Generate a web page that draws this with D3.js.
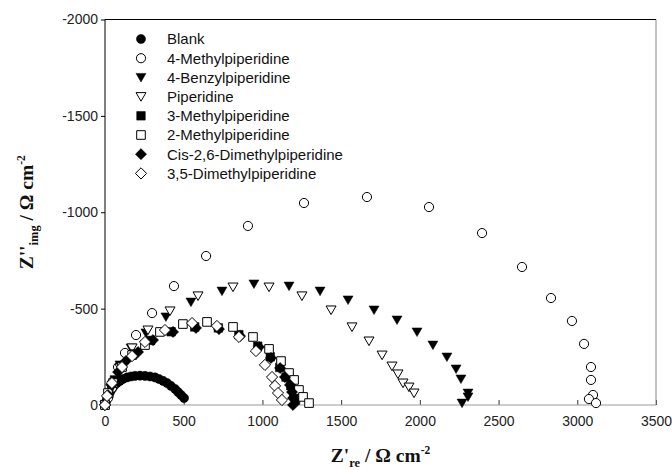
<!DOCTYPE html>
<html>
<head>
<meta charset="utf-8">
<script src="https://cdn.jsdelivr.net/npm/d3@7"></script>
<style>
  body { margin: 0; background: #fff; }
  svg { display: block; }
  .tick text { font-family: "Liberation Sans", Arial, sans-serif; font-size: 14px; fill: #222; }
  .title { font-family: "Liberation Serif", "Times New Roman", serif; font-weight: bold; font-size: 19.5px; fill: #111; }
  .legend text { font-family: "Liberation Sans", Arial, sans-serif; font-size: 15px; fill: #111; }
</style>
</head>
<body>
<svg id="chart"></svg>
<script>
// Nyquist data, [Z're, Z''img] in Ohm cm^-2 (Z''img negative)
const blank = [[0,0],[6,-16],[13,-31],[19,-47],[32,-67],[44,-83],[57,-99],[76,-114],[95,-125],[114,-135],
  [140,-143],[165,-148],[191,-151],[222,-152],[254,-151],[286,-148],[318,-143],[343,-135],[369,-125],
  [394,-114],[419,-99],[445,-83],[464,-67],[483,-52],[502,-36]];
const methyl4 = [[0,0],[19,-36],[44,-88],[83,-197],[127,-270],[197,-363],[299,-477],[438,-617],[642,-773],
  [908,-929],[1264,-1048],[1664,-1079],[2058,-1027],[2395,-892],[2649,-716],[2833,-555],[2966,-436],
  [3043,-317],[3087,-197],[3087,-130],[3100,-52],[3074,-31],[3119,-10]];
const benzyl4 = [[0,0],[44,-104],[95,-208],[165,-296],[260,-374],[387,-457],[546,-534],[743,-591],[946,-628],
  [1169,-617],[1366,-591],[1544,-545],[1709,-493],[1855,-441],[1982,-379],[2083,-311],[2172,-249],
  [2230,-187],[2261,-135],[2306,-62],[2306,-42],[2268,-10]];
const piperidine = [[0,0],[38,-88],[95,-192],[172,-296],[273,-389],[413,-488],[591,-566],[813,-612],[1042,-612],
  [1251,-566],[1436,-493],[1569,-405],[1677,-332],[1760,-259],[1823,-202],[1861,-161],[1893,-114],
  [1931,-93],[1963,-62]];
const methyl3 = [[0,0],[25,-60],[60,-130],[110,-200],[180,-265],[290,-335],[420,-380],[570,-405],[720,-400],
  [850,-365],[970,-305],[1050,-250],[1110,-195],[1150,-145],[1180,-100],[1200,-60],[1210,-25]];
const methyl2 = [[0,0],[19,-62],[51,-114],[108,-197],[172,-259],[254,-311],[349,-379],[495,-420],[648,-431],
  [813,-405],[940,-353],[1042,-291],[1118,-228],[1169,-166],[1201,-130],[1232,-78],[1258,-42],[1296,-10]];
const cisDimethyl = [[0,0],[19,-52],[44,-104],[83,-171],[133,-228],[210,-275],[305,-337],[432,-379],[578,-400],
  [724,-394],[858,-358],[978,-301],[1054,-244],[1112,-192],[1143,-145],[1175,-104],[1188,-67],[1194,-36],[1194,0]];
const dimethyl35 = [[0,0],[13,-47],[44,-114],[108,-197],[172,-254],[254,-327],[381,-389],[553,-425],[711,-410],
  [851,-353],[959,-280],[1016,-208],[1061,-145],[1080,-99],[1099,-62],[1124,-26]];

const seriesNames = ["Blank", "4-Methylpiperidine", "4-Benzylpiperidine", "Piperidine",
  "3-Methylpiperidine", "2-Methylpiperidine", "Cis-2,6-Dimethylpiperidine", "3,5-Dimethylpiperidine"];
const seriesData = [blank, methyl4, benzyl4, piperidine, methyl3, methyl2, cisDimethyl, dimethyl35];
const xTicks = [0, 500, 1000, 1500, 2000, 2500, 3000, 3500];
const yTicks = [0, -500, -1000, -1500, -2000];

// marker shape + fill per series
const markers = [
  { shape: "circle", filled: true },
  { shape: "circle", filled: false },
  { shape: "triangle", filled: true },
  { shape: "triangle", filled: false },
  { shape: "square", filled: true },
  { shape: "square", filled: false },
  { shape: "diamond", filled: true },
  { shape: "diamond", filled: false }
];

const W = 672, H = 470;
const plot = { left: 105, right: 656, top: 19.5, bottom: 405 };

const svg = d3.select("#chart").attr("width", W).attr("height", H);

const x = d3.scaleLinear().domain([0, 3500]).range([plot.left, plot.right]);
const y = d3.scaleLinear().domain([0, -2000]).range([plot.bottom, plot.top]);

function markerPath(shape) {
  if (shape === "circle") return d3.symbol(d3.symbolCircle, 66)();
  if (shape === "square") return "M-4.3,-4.3H4.3V4.3H-4.3Z";
  if (shape === "diamond") return "M0,-5.6L5.6,0L0,5.6L-5.6,0Z";
  return "M-5,-4L5,-4L0,4.6Z"; // downward triangle
}

// axes
const xAxis = d3.axisBottom(x).tickValues(xTicks).tickSize(-5).tickPadding(11).tickFormat(d => String(d));
svg.append("g")
  .attr("transform", `translate(0,${plot.bottom})`)
  .call(xAxis)
  .call(g => g.select(".domain").remove())
  .call(g => g.selectAll(".tick line").attr("stroke", "#333"));

const yAxis = d3.axisLeft(y).tickValues(yTicks).tickSize(4).tickPadding(3).tickFormat(d => String(d));
svg.append("g")
  .attr("transform", `translate(${plot.left},0)`)
  .call(yAxis)
  .call(g => g.select(".domain").remove())
  .call(g => g.selectAll(".tick line").attr("stroke", "#000"));

// frame
svg.append("line").attr("x1", plot.left).attr("x2", plot.right).attr("y1", plot.bottom).attr("y2", plot.bottom)
  .attr("stroke", "#999").attr("stroke-width", 1.2);
svg.append("line").attr("x1", plot.right).attr("x2", plot.right).attr("y1", plot.top).attr("y2", plot.bottom)
  .attr("stroke", "#888").attr("stroke-width", 1);
svg.append("line").attr("x1", plot.left).attr("x2", plot.right).attr("y1", plot.top).attr("y2", plot.top)
  .attr("stroke", "#000").attr("stroke-width", 1);
svg.append("line").attr("x1", plot.left).attr("x2", plot.left).attr("y1", plot.top).attr("y2", plot.bottom)
  .attr("stroke", "#000").attr("stroke-width", 1);

// points
seriesData.forEach((data, i) => {
  const m = markers[i];
  svg.append("g")
    .selectAll("path")
    .data(data)
    .join("path")
    .attr("d", markerPath(m.shape))
    .attr("transform", d => `translate(${x(d[0])},${y(d[1])})`)
    .attr("fill", m.filled ? "#000" : "#fff")
    .attr("stroke", "#000")
    .attr("stroke-width", m.filled ? 0.5 : 1);
});

// legend
const legend = svg.append("g").attr("class", "legend");
seriesNames.forEach((name, i) => {
  const m = markers[i];
  const ly = 39 + i * 19.2;
  legend.append("path")
    .attr("d", markerPath(m.shape))
    .attr("transform", `translate(141,${ly})`)
    .attr("fill", m.filled ? "#000" : "#fff")
    .attr("stroke", "#000")
    .attr("stroke-width", m.filled ? 0.5 : 1);
  legend.append("text")
    .attr("x", 167)
    .attr("y", ly)
    .attr("dy", "0.36em")
    .text(name);
});

// axis titles
const xt = svg.append("text").attr("class", "title")
  .attr("x", (plot.left + plot.right) / 2).attr("y", 462).attr("text-anchor", "middle");
xt.append("tspan").text("Z'");
xt.append("tspan").attr("font-size", "12.5px").attr("dy", 5).text("re");
xt.append("tspan").attr("dy", -5).text(" / Ω cm");
xt.append("tspan").attr("font-size", "11.5px").attr("dy", -8).text("-2");

const yt = svg.append("text").attr("class", "title")
  .attr("transform", `translate(33,${(plot.top + plot.bottom) / 2}) rotate(-90)`)
  .attr("text-anchor", "middle");
yt.append("tspan").text("Z''");
yt.append("tspan").attr("font-size", "12.5px").attr("dy", 5).text("img");
yt.append("tspan").attr("dy", -5).text(" / Ω cm");
yt.append("tspan").attr("font-size", "11.5px").attr("dy", -8).text("-2");
</script>
</body>
</html>
